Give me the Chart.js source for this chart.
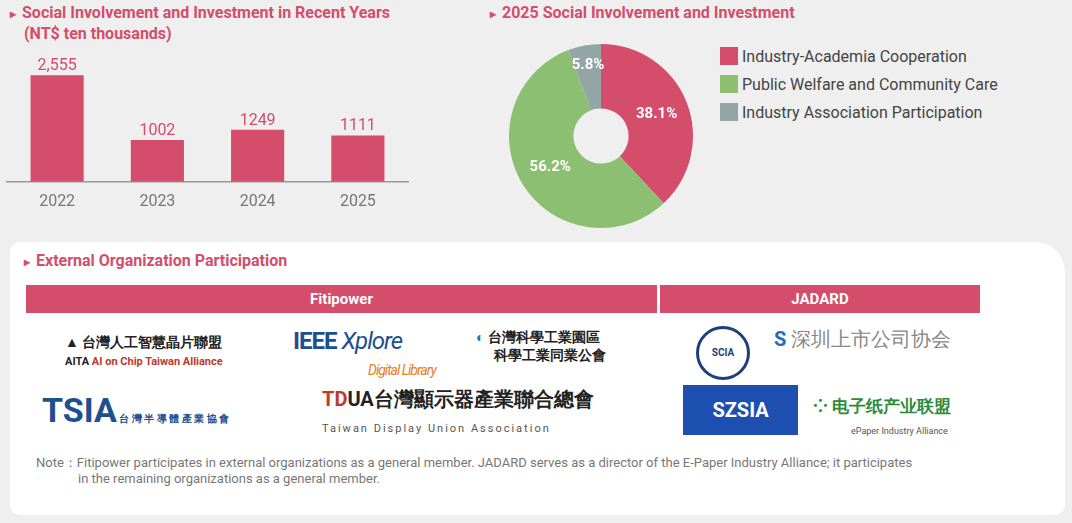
<!DOCTYPE html>
<html>
<head>
<meta charset="utf-8">
<script src="https://cdn.jsdelivr.net/npm/chart.js@4"></script>
<style>
  body { margin: 0; width: 1072px; height: 523px; background: #efefef; font-family: Roboto, "Noto Sans", sans-serif; position: relative; overflow: hidden; }
  .title { position: absolute; color: #d44d6b; font-weight: 700; font-size: 16px; line-height: 20px; }
  .title:before { content: "\25B8"; font-size: 12px; margin-right: 6px; }
  .legend { position: absolute; left: 720px; top: 42px; font-size: 16px; color: #444; }
  .legend div { display: flex; align-items: center; height: 28px; }
  .legend span { width: 18px; height: 18px; margin-right: 4px; display: inline-block; }
  .panel { position: absolute; left: 10px; top: 242px; width: 1055px; height: 273px; background: #fff; border-radius: 10px 30px 10px 10px; }
  .bar { position: absolute; top: 43px; height: 28px; background: #d44d6b; color: #fff; font-weight: 700; font-size: 15px; text-align: center; line-height: 28px; }
  .logo { position: absolute; font-weight: 700; }
  .note { position: absolute; left: 26px; top: 213px; width: 950px; font-size: 13px; color: #777; line-height: 16px; }
</style>
</head>
<body>
<div class="title" style="left:10px;top:3px;">Social Involvement and Investment in Recent Years<br><span style="margin-left:14px">(NT$ ten thousands)</span></div>
<div class="title" style="left:490px;top:3px;">2025 Social Involvement and Investment</div>
<div style="position:absolute;left:0;top:50px;width:420px;height:165px;"><canvas id="bars"></canvas></div>
<div style="position:absolute;left:501px;top:36px;width:200px;height:200px;"><canvas id="pie"></canvas></div>
<div class="legend" id="legend"></div>

<div class="panel">
  <div class="title" style="left:14px;top:9px;">External Organization Participation</div>
  <div class="bar" style="left:16px;width:631px;">Fitipower</div>
  <div class="bar" style="left:650px;width:320px;">JADARD</div>
  <div class="logo" style="left:55px;top:92px;font-size:14px;color:#222;">▲ 台灣人工智慧晶片聯盟<br><span style="font-size:11px;">AITA <span style="color:#c0392b">AI on Chip Taiwan Alliance</span></span></div>
  <div class="logo" style="left:283px;top:86px;font-size:24px;color:#1d4f91;letter-spacing:-1px;line-height:26px;">IEEE <i style="font-weight:400">Xplore</i><br><i style="font-size:14px;color:#e67e22;font-weight:400;padding-left:75px;">Digital Library</i></div>
  <div class="logo" style="left:466px;top:87px;font-size:14px;color:#222;"><span style="color:#1d6fb8">◐</span> 台灣科學工業園區<br><span style="margin-left:18px">科學工業同業公會</span></div>
  <div class="logo" style="left:32px;top:148px;font-size:34px;color:#1d4f91;">TSIA<span style="font-size:10px;"> 台 灣 半 導 體 產 業 協 會</span></div>
  <div class="logo" style="left:312px;top:144px;font-size:20px;color:#222;"><span style="color:#c0392b">TD</span>UA台灣顯示器產業聯合總會<br><span style="font-size:11px;font-weight:400;letter-spacing:2px;color:#555">Taiwan Display Union Association</span></div>
  <div class="logo" style="left:686px;top:84px;width:48px;height:48px;border:3px solid #1d3f7a;border-radius:50%;text-align:center;line-height:48px;font-size:10px;color:#1d3f7a;">SCIA</div>
  <div class="logo" style="left:764px;top:84px;font-size:20px;color:#1d6fb8;">S <span style="color:#888;font-weight:400">深圳上市公司协会</span></div>
  <div class="logo" style="left:673px;top:143px;width:115px;height:50px;background:#1d4fb0;color:#fff;font-size:20px;text-align:center;line-height:50px;">SZSIA</div>
  <div class="logo" style="left:803px;top:152px;font-size:17px;color:#2e8b3a;">⁘ 电子纸产业联盟<br><span style="font-size:9px;font-weight:400;margin-left:38px;color:#555">ePaper Industry Alliance</span></div>
  <div class="note">Note：Fitipower participates in external organizations as a general member. JADARD serves as a director of the E-Paper Industry Alliance; it participates<br><span style="margin-left:42px">in the remaining organizations as a general member.</span></div>
</div>

<script>
  const years = ["2022", "2023", "2024", "2025"];
  const amounts = [2555, 1002, 1249, 1111];
  const amountLabels = ["2,555", "1002", "1249", "1111"];

  const shareNames = ["Industry-Academia Cooperation", "Public Welfare and Community Care", "Industry Association Participation"];
  const shareValues = [38.1, 56.2, 5.8];
  const shareColors = ["#d44d6b", "#8dbf72", "#93a5a5"];

  const barRed = "#d44d6b";

  const barLabels = {
    id: "barLabels",
    afterDatasetsDraw(chart) {
      const ctx = chart.ctx;
      ctx.save();
      ctx.fillStyle = barRed;
      ctx.font = "16px Roboto";
      ctx.textAlign = "center";
      ctx.textBaseline = "bottom";
      chart.getDatasetMeta(0).data.forEach((bar, i) => {
        ctx.fillText(amountLabels[i], bar.x, bar.y - 1);
      });
      ctx.restore();
    }
  };

  new Chart(document.getElementById("bars"), {
    type: "bar",
    data: { labels: years, datasets: [{ data: amounts, backgroundColor: barRed, barPercentage: 0.53, categoryPercentage: 1 }] },
    options: {
      responsive: true, maintainAspectRatio: false, animation: false,
      layout: { padding: { left: 7, right: 12 } },
      plugins: { legend: { display: false }, tooltip: { enabled: false } },
      scales: {
        x: { grid: { display: false }, border: { color: "#999", width: 1.5 }, ticks: { color: "#777", font: { size: 16, family: "Roboto" } } },
        y: { display: false, min: 0, max: 3160 }
      }
    },
    plugins: [barLabels]
  });

  const pieLabels = {
    id: "pieLabels",
    afterDatasetsDraw(chart) {
      const ctx = chart.ctx;
      ctx.save();
      ctx.fillStyle = "#fff";
      ctx.font = "bold 15px Roboto";
      ctx.textAlign = "center";
      ctx.textBaseline = "middle";
      chart.getDatasetMeta(0).data.forEach((arc, i) => {
        const mid = (arc.startAngle + arc.endAngle) / 2;
        const r = i === 2 ? arc.outerRadius * 0.78 : (arc.innerRadius + arc.outerRadius) / 2;
        ctx.fillText(shareValues[i] + "%", arc.x + Math.cos(mid) * r, arc.y + Math.sin(mid) * r);
      });
      ctx.restore();
    }
  };

  new Chart(document.getElementById("pie"), {
    type: "doughnut",
    data: { labels: shareNames, datasets: [{ data: shareValues, backgroundColor: shareColors, borderWidth: 0 }] },
    options: {
      responsive: true, maintainAspectRatio: false, animation: false, cutout: "30%",
      layout: { padding: 8 },
      plugins: { legend: { display: false }, tooltip: { enabled: false } }
    },
    plugins: [pieLabels]
  });

  document.getElementById("legend").innerHTML = shareNames
    .map((name, i) => `<div><span style="background:${shareColors[i]}"></span>${name}</div>`).join("");
</script>
</body>
</html>
